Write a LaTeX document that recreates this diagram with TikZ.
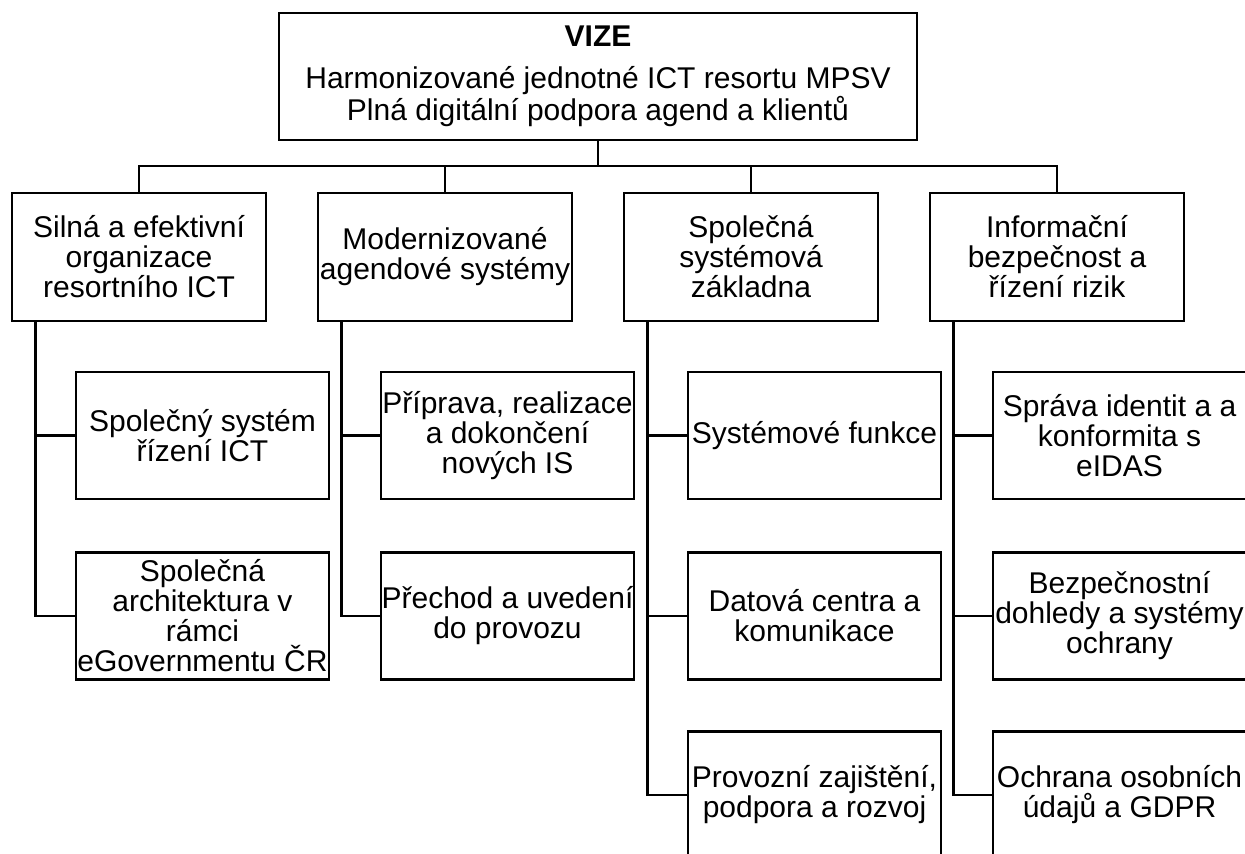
\documentclass[tikz,border=0pt]{standalone}
\usepackage{fontspec}
\setmainfont{Liberation Sans}
\begin{document}
\begin{tikzpicture}[x=0.5pt,y=-0.5pt,line width=1.3pt]

      \useasboundingbox (0,0) rectangle (1245,853);

      \begin{scope}[every node/.style={rectangle,draw,align=center,inner xsep=0pt,
          font=\fontsize{15pt}{15pt}\selectfont}]
        \node[minimum width=319pt,minimum height=63.5pt] (0) at (598,76.5)
          {\textbf{VIZE}\\[6pt]Harmonizované jednotné ICT resortu MPSV\\Plná digitální podpora agend a klientů};
      \end{scope}

      \begin{scope}[every node/.style={rectangle,draw,align=center,inner xsep=0pt,
          minimum width=127pt,minimum height=64pt,
          font=\fontsize{15pt}{15pt}\selectfont}]
        \node (1) at (139,257)  {Silná a efektivní\\organizace\\resortního ICT};
        \node (2) at (445,257)  {Modernizované\\agendové systémy};
        \node (3) at (751,257)  {Společná\\systémová\\základna};
        \node (4) at (1057,257) {Informační\\bezpečnost a\\řízení rizik};
      \end{scope}

      \begin{scope}[every node/.style={rectangle,draw,align=center,inner xsep=0pt,
          minimum width=126.5pt,minimum height=63.5pt,
          font=\fontsize{15pt}{15pt}\selectfont}]
        \node (11) at (202.5,435.5)  {Společný systém\\řízení ICT};
        \node (12) at (202.5,616)    {Společná\\architektura v\\rámci\\eGovernmentu ČR};
        \node (21) at (507.5,435.5)  {Příprava, realizace\\a dokončení\\nových IS};
        \node (22) at (507.5,616)    {Přechod a uvedení\\do provozu};
        \node (31) at (814.5,435.5)  {Systémové funkce};
        \node (32) at (814.5,616)    {Datová centra a\\komunikace};
        \node (33) at (814.5,795)    {Provozní zajištění,\\podpora a rozvoj};
        \node (41) at (1119.5,435.5) {Správa identit a a\\konformita s\\eIDAS};
        \node (42) at (1119.5,616)   {Bezpečnostní\\dohledy a systémy\\ochrany};
        \node (43) at (1119.5,795)   {Ochrana osobních\\údajů a GDPR};
      \end{scope}

      \coordinate (bus) at (598,166);
      \draw (0) -- (bus);
      \draw (bus) -| (1);
      \draw (bus) -| (2);
      \draw (bus) -| (3);
      \draw (bus) -| (4);

      \begin{scope}[every path/.style={draw}]
        \path ([xshift=12.5pt]1.south west) |- (11);
        \path ([xshift=12.5pt]1.south west) |- (12);
        \path ([xshift=12.5pt]2.south west) |- (21);
        \path ([xshift=12.5pt]2.south west) |- (22);
        \path ([xshift=12.5pt]3.south west) |- (31);
        \path ([xshift=12.5pt]3.south west) |- (32);
        \path ([xshift=12.5pt]3.south west) |- (33);
        \path ([xshift=12.5pt]4.south west) |- (41);
        \path ([xshift=12.5pt]4.south west) |- (42);
        \path ([xshift=12.5pt]4.south west) |- (43);
      \end{scope}

    \end{tikzpicture}
\end{document}
